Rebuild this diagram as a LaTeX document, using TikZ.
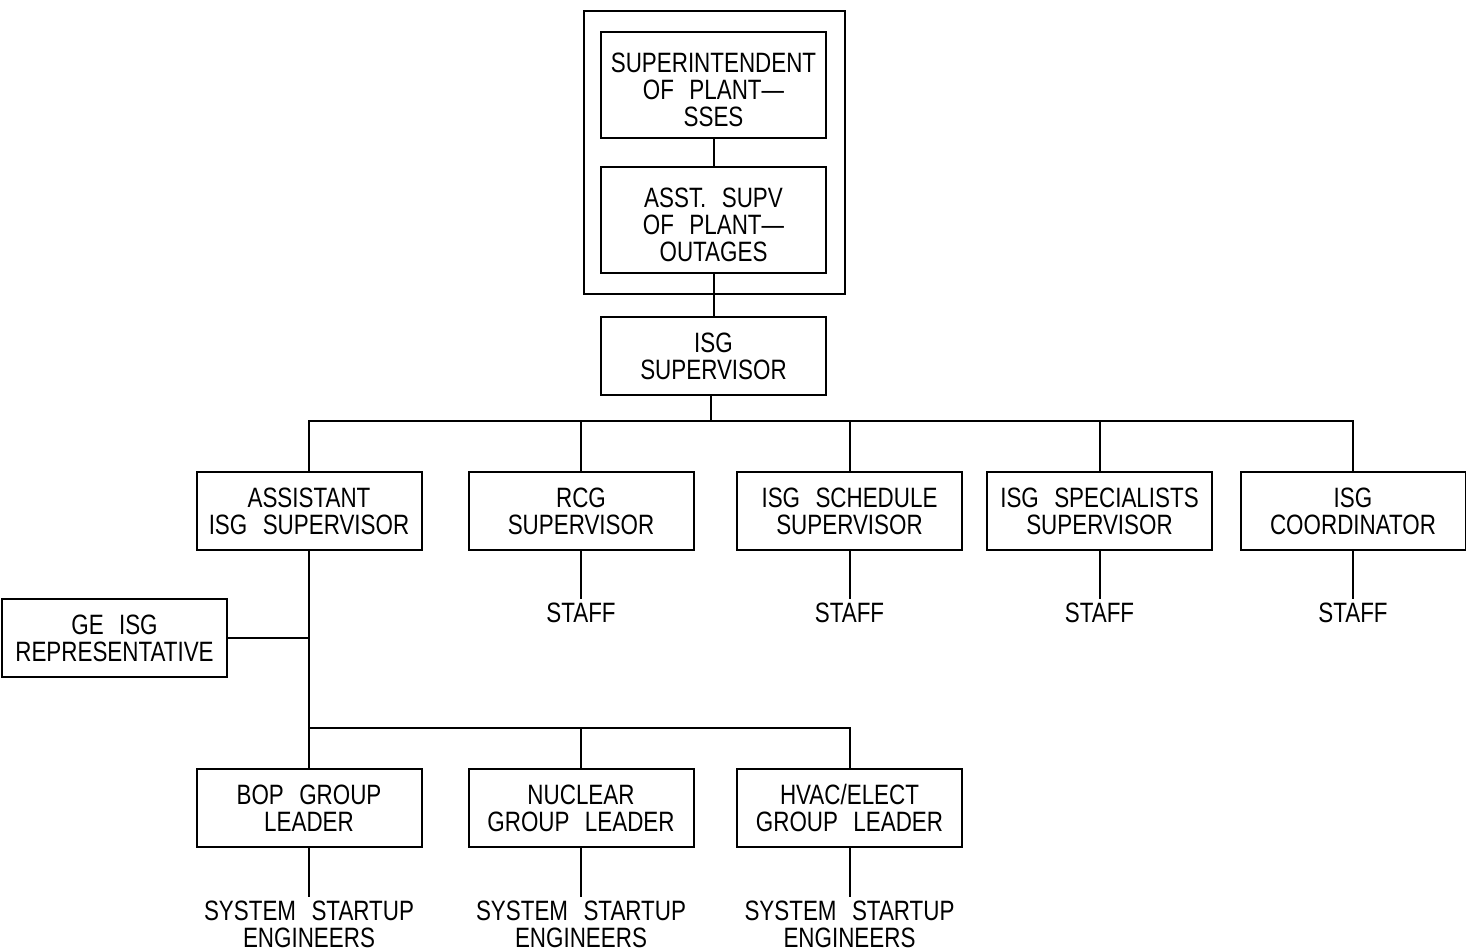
\documentclass[tikz,border=0pt]{standalone}
\usepackage{fontspec}
\setmainfont[FakeStretch=0.80]{Liberation Sans}
\newcommand\wg{\hspace{0.55em}}
\begin{document}
\begin{tikzpicture}[x=1pt,y=-1pt,line width=2pt,
  every node/.style={font=\fontsize{28}{27}\selectfont, align=center},
  box/.style={draw, minimum width=225pt, minimum height=78pt, inner sep=0pt},
  tallbox/.style={draw, minimum width=225pt, minimum height=106pt, inner sep=0pt},
  lbl/.style={inner sep=3pt}]
\useasboundingbox (0,0) rectangle (1466,950);
% top group
\node[draw, minimum width=261pt, minimum height=283pt, inner sep=0pt] (outer) at (714.5,152.5) {};
\node[tallbox] (sup) at (713.5,85) {};
\node (suptext) at ([yshift=-5pt]sup.center) {SUPERINTENDENT\\OF\wg PLANT---\\SSES};
\node[tallbox] (asst) at (713.5,220) {};
\node (assttext) at ([yshift=-5pt]asst.center) {ASST.\wg SUPV\\OF\wg PLANT---\\OUTAGES};
\node[box] (isg) at (713.5,356) {ISG\\SUPERVISOR};
\draw (sup.south) -- (asst.north);
\draw (asst.south) -- (isg.north);
% second row
\node[box] (aisg) at (309,511) {ASSISTANT\\ISG\wg SUPERVISOR};
\node[box] (rcg) at (581,511) {RCG\\SUPERVISOR};
\node[box] (sched) at (849.5,511) {ISG\wg SCHEDULE\\SUPERVISOR};
\node[box] (spec) at (1099.5,511) {ISG\wg SPECIALISTS\\SUPERVISOR};
\node[box] (coord) at (1353,511) {ISG\\COORDINATOR};
\coordinate (bus) at (711,421);
\draw (isg.south -| bus) -- (bus);
\draw (aisg.north) -- (aisg.north |- bus) -- (coord.north |- bus) -- (coord.north);
\draw (rcg.north) -- (rcg.north |- bus);
\draw (sched.north) -- (sched.north |- bus);
\draw (spec.north) -- (spec.north |- bus);
% staff
\node[lbl] (s1) at (581,613) {STAFF};
\node[lbl] (s2) at (849.5,613) {STAFF};
\node[lbl] (s3) at (1099.5,613) {STAFF};
\node[lbl] (s4) at (1353,613) {STAFF};
\draw (rcg.south) -- (s1.north);
\draw (sched.south) -- (s2.north);
\draw (spec.south) -- (s3.north);
\draw (coord.south) -- (s4.north);
% GE rep
\node[box] (ge) at (114.5,638) {GE\wg ISG\\REPRESENTATIVE};
\coordinate (bus2) at (309,728);
\draw (aisg.south) -- (bus2);
\draw (ge.east) -- (ge.east -| aisg.south);
% bottom row
\node[box] (bop) at (309,808) {BOP\wg GROUP\\LEADER};
\node[box] (nuc) at (581,808) {NUCLEAR\\GROUP\wg LEADER};
\node[box] (hvac) at (849.5,808) {HVAC/ELECT\\GROUP\wg LEADER};
\draw (bus2) -- (hvac.north |- bus2) -- (hvac.north);
\draw (bus2) -- (bop.north);
\draw (nuc.north) -- (nuc.north |- bus2);
\node[lbl] (e1) at (309,924) {SYSTEM\wg STARTUP\\ENGINEERS};
\node[lbl] (e2) at (581,924) {SYSTEM\wg STARTUP\\ENGINEERS};
\node[lbl] (e3) at (849.5,924) {SYSTEM\wg STARTUP\\ENGINEERS};
\draw (bop.south) -- (e1.north);
\draw (nuc.south) -- (e2.north);
\draw (hvac.south) -- (e3.north);
\end{tikzpicture}
\end{document}
